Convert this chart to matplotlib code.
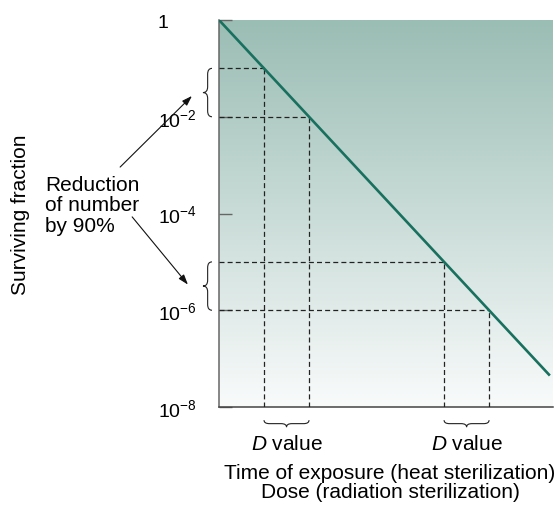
import numpy as np
import matplotlib
matplotlib.use("Agg")
import matplotlib.pyplot as plt
from matplotlib.path import Path
from matplotlib.patches import PathPatch
from matplotlib.transforms import blended_transform_factory

plt.rcParams["font.family"] = ["Liberation Sans", "DejaVu Sans"]
plt.rcParams["mathtext.fontset"] = "custom"
plt.rcParams["mathtext.rm"] = "Liberation Sans"
plt.rcParams["mathtext.it"] = "Liberation Sans:italic"

# survival curve: one D value per decade
line_time = [0.0, 7.35]
line_surv = [1.0, 10 ** -7.35]

# the two marked 90% reductions (start, end survival)
d_pairs = [(1e-1, 1e-2), (1e-5, 1e-6)]

ytick_vals = [1, 1e-2, 1e-4, 1e-6, 1e-8]
ytick_labels = ["1", r"$10^{-2}$", r"$10^{-4}$", r"$10^{-6}$", r"$10^{-8}$"]

TEAL = "#18705e"

fig = plt.figure(figsize=(5.59, 5.10), dpi=100)
ax = fig.add_axes([219 / 559, 102 / 510, 334 / 559, 387 / 510])
ax.set_yscale("log")
ax.set_ylim(1e-8, 1)
ax.set_xlim(0, 7.42)

# background gradient, teal at top fading to white
grad = np.linspace(0, 1, 256).reshape(-1, 1)
cmap = matplotlib.colors.LinearSegmentedColormap.from_list("bg", ["#f9fbfb", "#9abdb4"])
ax.imshow(grad, extent=[0, 1, 0, 1], transform=ax.transAxes, origin="lower",
          aspect="auto", cmap=cmap, zorder=0)

ax.plot(line_time, line_surv, color=TEAL, lw=1.9, zorder=4, solid_capstyle="butt")


def t_of(s):
    return -np.log10(s)


# dashed guides for each D value
for s_hi, s_lo in d_pairs:
    for s in (s_hi, s_lo):
        t = t_of(s)
        ax.plot([0, t], [s, s], color="#222222", lw=0.9, ls=(0, (4, 2.5)), zorder=3)
        ax.plot([t, t], [1e-8, s], color="#222222", lw=0.9, ls=(0, (4, 2.5)), zorder=3)


def brace(p0, p1, depth, half):
    # curly brace along p0..p1, tip at `depth`, body at `half`
    L = p1 - p0
    r = L * 0.12
    pts = [(p0, 0), (p0, half), (p0 + r, half), (p0 + L / 2 - r, half),
           (p0 + L / 2, half), (p0 + L / 2, depth),
           (p0 + L / 2, half), (p0 + L / 2 + r, half), (p1 - r, half),
           (p1, half), (p1, 0)]
    codes = [Path.MOVETO, Path.CURVE3, Path.CURVE3, Path.LINETO,
             Path.CURVE3, Path.CURVE3, Path.CURVE3, Path.CURVE3, Path.LINETO,
             Path.CURVE3, Path.CURVE3]
    return pts, codes


# left braces (x in axes fraction, y in log data)
tr_left = blended_transform_factory(ax.transAxes, ax.transData)
for s_hi, s_lo in d_pairs:
    a, b = np.log10(s_hi), np.log10(s_lo)
    pts, codes = brace(a, b, -0.027, -0.013)
    verts = [(-0.021 + v, 10 ** u) for u, v in pts]
    ax.add_patch(PathPatch(Path(verts, codes), fill=False, lw=0.8, ec="#222222",
                           transform=tr_left, clip_on=False))

# bottom braces (x in data, y in axes fraction)
tr_bot = blended_transform_factory(ax.transData, ax.transAxes)
for s_hi, s_lo in d_pairs:
    a, b = t_of(s_hi), t_of(s_lo)
    pts, codes = brace(a, b, -0.018, -0.009)
    verts = [(u, -0.034 + v) for u, v in pts]
    ax.add_patch(PathPatch(Path(verts, codes), fill=False, lw=0.8, ec="#222222",
                           transform=tr_bot, clip_on=False))
    ax.text((a + b) / 2, -0.095, r"$D$ value", transform=tr_bot, ha="center",
            va="center", fontsize=15)

# annotation text and arrows
ax.text(-0.521, 10 ** -3.82, "Reduction\nof number\nby 90%", transform=tr_left,
        ha="left", va="center", fontsize=15, linespacing=1.1)
arrow_kw = dict(arrowstyle="-|>,head_length=0.6,head_width=0.2", color="#111111",
                lw=0.8, shrinkA=0, shrinkB=0)
ax.annotate("", xy=(-0.081, 10 ** -1.57), xycoords=tr_left,
            xytext=(-0.296, 10 ** -3.04), textcoords=tr_left, arrowprops=arrow_kw)
ax.annotate("", xy=(-0.093, 10 ** -5.47), xycoords=tr_left,
            xytext=(-0.26, 10 ** -4.07), textcoords=tr_left, arrowprops=arrow_kw)

ax.text(-0.595, 0.5, "Surviving fraction", transform=ax.transAxes, rotation=90,
        ha="center", va="center", fontsize=15)
ax.text(0.512, -0.145, "Time of exposure (heat sterilization)\nDose (radiation sterilization)",
        transform=ax.transAxes, ha="center", va="top", fontsize=15, linespacing=1.0)

# axes styling
ax.set_xticks([])
ax.set_yticks(ytick_vals)
ax.set_yticklabels(ytick_labels)
ax.yaxis.set_minor_locator(matplotlib.ticker.NullLocator())
ax.tick_params(axis="y", direction="in", length=9.5, width=1.0, color="#666666",
               pad=44, labelsize=14)
for lab in ax.get_yticklabels():
    lab.set_horizontalalignment("left")
for side in ("top", "right"):
    ax.spines[side].set_visible(False)
ax.spines["left"].set_color("#666666")
ax.spines["bottom"].set_color("#444444")
ax.spines["left"].set_linewidth(1.1)
ax.spines["bottom"].set_linewidth(1.1)

fig.savefig("out.png", dpi=100)
